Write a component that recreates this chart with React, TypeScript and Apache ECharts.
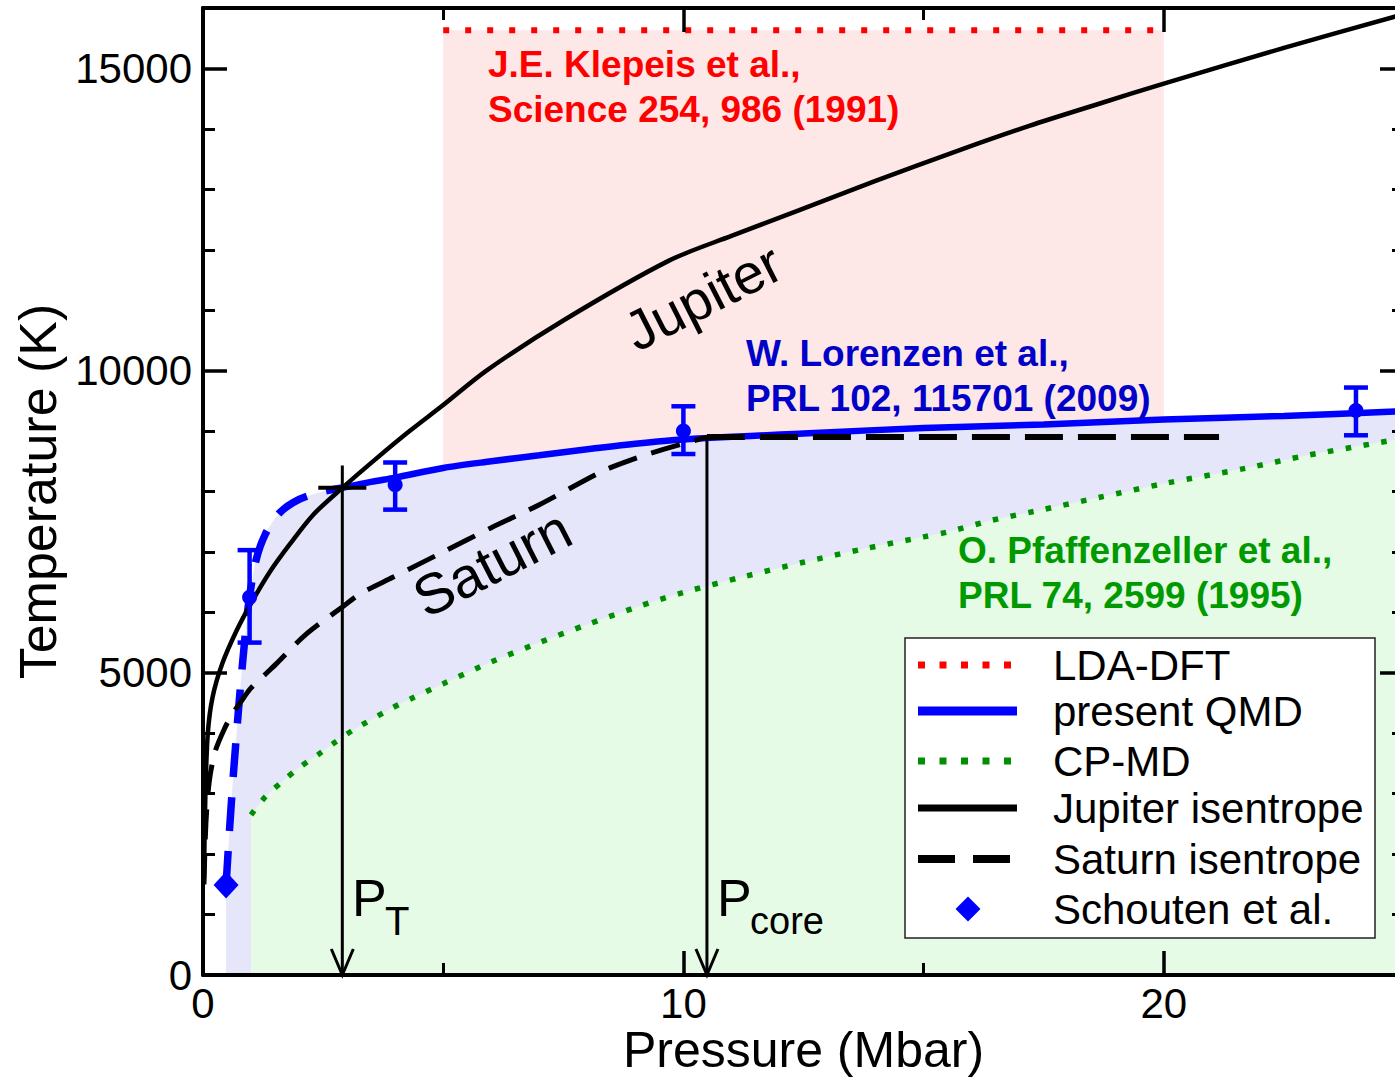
import React, { useEffect, useRef } from "react";
import * as echarts from "echarts";

const FONT = '"Liberation Sans", Arial, Helvetica, sans-serif';

// ---- axes ----
const P_MIN = 0;
const P_MAX = 25;
const P_INTERVAL = 10;
const T_MIN = 0;
const T_MAX = 16000;
const T_INTERVAL = 5000;

// ---- special pressures ----
const P_T = 2.9;
const T_PT_TOP = 8430;
const T_PT_CROSS = 8060;
const P_T_CROSS_HALF = 0.5;
const P_CORE = 10.49;
const T_CORE = 8900;

// ---- data (P in Mbar, T in K) ----
const ldaDft: number[][] = [
  [5, 15630],
  [20, 15630],
];

const qmdDashed: number[][] = [
  [0.48, 1490], [0.56, 2500], [0.64, 3400], [0.74, 4400], [0.84, 5300],
  [0.95, 6150], [1.1, 6850], [1.3, 7300], [1.6, 7650], [2.0, 7870],
  [2.5, 8000], [2.9, 8060],
];

const qmdSolid: number[][] = [
  [2.9, 8060], [3.5, 8160], [4, 8230], [5, 8390], [6, 8500], [7, 8600],
  [8, 8700], [9, 8790], [10, 8860], [12.5, 8960], [15, 9050], [17.5, 9110],
  [20, 9190], [22.5, 9250], [25, 9330],
];

const cpmd: number[][] = [
  [1.0, 2650], [1.3, 2950], [1.65, 3200], [2.0, 3430], [2.4, 3650],
  [2.75, 3850], [3.12, 4050], [3.93, 4415], [4.35, 4580], [5, 4820],
  [6, 5180], [7, 5500], [8, 5800], [9, 6080], [10, 6330], [11.25, 6590],
  [12.5, 6830], [13.75, 7050], [15, 7250], [15.5, 7330], [16.4, 7520],
  [17.3, 7670], [18.67, 7905], [20, 8130], [21.7, 8384], [23, 8600],
  [25, 8880],
];

const jupiter: number[][] = [
  [0.02, 1600], [0.05, 3000], [0.1, 4000], [0.2, 4600], [0.4, 5150],
  [0.7, 5700], [1.0, 6150], [1.4, 6680], [1.8, 7120], [2.3, 7620],
  [2.9, 8060], [3.6, 8540], [4.3, 9000], [5, 9430], [5.9, 10000],
  [7.5, 10830], [9.7, 11820], [11, 12230], [12.4, 12650], [14, 13140],
  [15.75, 13650], [17.2, 14050], [18.67, 14420], [20, 14750], [22.5, 15340],
  [25, 15900],
];

const saturnRise: number[][] = [
  [0.02, 1500], [0.06, 2500], [0.13, 3200], [0.25, 3690], [0.45, 4080],
  [0.62, 4330], [0.77, 4500], [1.0, 4750], [1.33, 5000], [1.54, 5160],
  [2.12, 5620], [2.9, 6090], [3.3, 6320], [3.95, 6580], [5, 7000],
  [6, 7400], [7, 7780], [8.3, 8330], [8.9, 8520], [9.6, 8700],
  [10.49, 8900],
];

const saturnCore: number[][] = [
  [10.49, 8900],
  [21.15, 8900],
];

// [P, T, T_low, T_high]
const qmdErr: number[][] = [
  [0.97, 6250, 5500, 7030],
  [4.0, 8110, 7700, 8480],
  [10.0, 9000, 8620, 9410],
  [24.0, 9340, 8930, 9720],
];

const schouten: number[][] = [[0.48, 1490]];

const legendLabels = [
  "LDA-DFT",
  "present QMD",
  "CP-MD",
  "Jupiter isentrope",
  "Saturn isentrope",
  "Schouten et al.",
];

// ---- colours ----
const RED = "#FF0000";
const BLUE = "#0000FF";
const GREEN = "#008F00";
const PINK_FILL = "#FDE7E7";
const BLUE_FILL = "#E6E6FA";
const GREEN_FILL = "#E6FBE6";

const fmt = (v: number) => String(v);

function buildOption() {
  const axisLineStyle = { color: "#000", width: 4 };
  const tick = { show: true, inside: true, length: 24, lineStyle: { color: "#000", width: 3.5 } };
  const labelStyle = { color: "#000", fontSize: 42, fontFamily: FONT };

  const qmdArea = qmdDashed.concat(qmdSolid.slice(1));

  const legendRowsY = [665, 711, 761, 808, 859, 909];
  const sampleX1 = 918;
  const sampleX2 = 1017;
  const textX = 1053;

  const graphic: any[] = [
    // Annotations
    {
      type: "text", z: 100, x: 488, y: 42,
      style: {
        text: "J.E. Klepeis et al.,\nScience 254, 986 (1991)",
        fill: RED, fontSize: 37, fontWeight: "bold", fontFamily: FONT,
        lineHeight: 45, align: "left", verticalAlign: "top",
      },
    },
    {
      type: "text", z: 100, x: 746, y: 331,
      style: {
        text: "W. Lorenzen et al.,\nPRL 102, 115701 (2009)",
        fill: "#0000C8", fontSize: 37, fontWeight: "bold", fontFamily: FONT,
        lineHeight: 45, align: "left", verticalAlign: "top",
      },
    },
    {
      type: "text", z: 100, x: 958, y: 528,
      style: {
        text: "O. Pfaffenzeller et al.,\nPRL 74, 2599 (1995)",
        fill: "#009A00", fontSize: 37, fontWeight: "bold", fontFamily: FONT,
        lineHeight: 45, align: "left", verticalAlign: "top",
      },
    },
    {
      type: "text", z: 100, x: 703, y: 297, rotation: (27 * Math.PI) / 180,
      style: { text: "Jupiter", fill: "#000", fontSize: 56, fontFamily: FONT, align: "center", verticalAlign: "middle" },
    },
    {
      type: "text", z: 100, x: 492, y: 563, rotation: (27 * Math.PI) / 180,
      style: { text: "Saturn", fill: "#000", fontSize: 57, fontFamily: FONT, align: "center", verticalAlign: "middle" },
    },
    // P_T label
    {
      type: "text", z: 100, x: 352, y: 898,
      style: { text: "P", fill: "#000", fontSize: 52, fontFamily: FONT, align: "left", verticalAlign: "middle" },
    },
    {
      type: "text", z: 100, x: 385, y: 921,
      style: { text: "T", fill: "#000", fontSize: 40, fontFamily: FONT, align: "left", verticalAlign: "middle" },
    },
    // P_core label
    {
      type: "text", z: 100, x: 717, y: 898,
      style: { text: "P", fill: "#000", fontSize: 52, fontFamily: FONT, align: "left", verticalAlign: "middle" },
    },
    {
      type: "text", z: 100, x: 750, y: 921,
      style: { text: "core", fill: "#000", fontSize: 38, fontFamily: FONT, align: "left", verticalAlign: "middle" },
    },
    // Legend box
    {
      type: "rect", z: 100,
      shape: { x: 905, y: 638, width: 470, height: 300 },
      style: { fill: "#fff", stroke: "#222", lineWidth: 1.5 },
    },
    {
      type: "line", z: 101,
      shape: { x1: sampleX1, y1: legendRowsY[0], x2: sampleX2, y2: legendRowsY[0] },
      style: { stroke: RED, lineWidth: 7, lineDash: [7, 14.5], lineCap: "butt" },
    },
    {
      type: "line", z: 101,
      shape: { x1: sampleX1, y1: legendRowsY[1], x2: sampleX2, y2: legendRowsY[1] },
      style: { stroke: BLUE, lineWidth: 9 },
    },
    {
      type: "line", z: 101,
      shape: { x1: sampleX1, y1: legendRowsY[2], x2: sampleX2, y2: legendRowsY[2] },
      style: { stroke: GREEN, lineWidth: 7, lineDash: [7, 14.5], lineCap: "butt" },
    },
    {
      type: "line", z: 101,
      shape: { x1: sampleX1, y1: legendRowsY[3], x2: sampleX2, y2: legendRowsY[3] },
      style: { stroke: "#000", lineWidth: 7 },
    },
    {
      type: "line", z: 101,
      shape: { x1: sampleX1, y1: legendRowsY[4], x2: sampleX2, y2: legendRowsY[4] },
      style: { stroke: "#000", lineWidth: 8, lineDash: [37, 18], lineCap: "butt" },
    },
    {
      type: "polygon", z: 101,
      shape: {
        points: [
          [968, legendRowsY[5] - 12.5],
          [980.5, legendRowsY[5]],
          [968, legendRowsY[5] + 12.5],
          [955.5, legendRowsY[5]],
        ],
      },
      style: { fill: BLUE },
    },
    ...legendLabels.map((t, i) => ({
      type: "text", z: 101, x: textX, y: legendRowsY[i],
      style: { text: t, fill: "#000", fontSize: 42, fontFamily: FONT, align: "left", verticalAlign: "middle" },
    })),
  ];

  const option: any = {
    animation: false,
    backgroundColor: "#fff",
    textStyle: { fontFamily: FONT },
    grid: { left: 203, top: 8, width: 1201, height: 967, outerBoundsMode: "none", containLabel: false },
    xAxis: [
      {
        type: "value", min: P_MIN, max: P_MAX, interval: P_INTERVAL, position: "bottom", z: 10,
        axisLine: { show: true, onZero: false, lineStyle: axisLineStyle },
        axisTick: tick,
        minorTick: { show: true, splitNumber: 2, length: 12, lineStyle: { color: "#000", width: 3 } },
        splitLine: { show: false }, minorSplitLine: { show: false },
        axisLabel: { ...labelStyle, margin: 7, showMaxLabel: false, formatter: fmt },
        name: "Pressure (Mbar)", nameLocation: "middle", nameGap: 50, nameMoveOverlap: false,
        nameTextStyle: { color: "#000", fontSize: 50, fontFamily: FONT },
      },
      {
        type: "value", min: P_MIN, max: P_MAX, interval: P_INTERVAL, position: "top", z: 10,
        axisLine: { show: true, onZero: false, lineStyle: axisLineStyle },
        axisTick: tick,
        minorTick: { show: true, splitNumber: 2, length: 12, lineStyle: { color: "#000", width: 3 } },
        splitLine: { show: false }, minorSplitLine: { show: false },
        axisLabel: { show: false },
      },
    ],
    yAxis: [
      {
        type: "value", min: T_MIN, max: T_MAX, interval: T_INTERVAL, position: "left", z: 10,
        axisLine: { show: true, onZero: false, lineStyle: axisLineStyle },
        axisTick: tick,
        minorTick: { show: true, splitNumber: 5, length: 12, lineStyle: { color: "#000", width: 3 } },
        splitLine: { show: false }, minorSplitLine: { show: false },
        axisLabel: { ...labelStyle, margin: 11, showMaxLabel: false, formatter: fmt },
        name: "Temperature (K)", nameLocation: "middle", nameGap: 139, nameMoveOverlap: false,
        nameTextStyle: { color: "#000", fontSize: 52, fontFamily: FONT },
      },
      {
        type: "value", min: T_MIN, max: T_MAX, interval: T_INTERVAL, position: "right", z: 10,
        axisLine: { show: true, onZero: false, lineStyle: axisLineStyle },
        axisTick: tick,
        minorTick: { show: true, splitNumber: 5, length: 12, lineStyle: { color: "#000", width: 3 } },
        splitLine: { show: false }, minorSplitLine: { show: false },
        axisLabel: { show: false },
      },
    ],
    graphic,
    series: [
      {
        name: "LDA-DFT", type: "line", data: ldaDft, symbol: "none", silent: true,
        lineStyle: { color: RED, width: 6, type: [6, 16], cap: "butt" },
        areaStyle: { color: PINK_FILL, opacity: 1 },
        z: 1,
      },
      {
        name: "qmdArea", type: "line", data: qmdArea, symbol: "none", silent: true, smooth: 0.3,
        lineStyle: { opacity: 0, width: 0 },
        areaStyle: { color: BLUE_FILL, opacity: 1 },
        z: 1,
      },
      {
        name: "CP-MD", type: "line", data: cpmd, symbol: "none", silent: true, smooth: 0.3,
        lineStyle: { color: GREEN, width: 5.5, type: [5.5, 12.5], cap: "butt" },
        areaStyle: { color: GREEN_FILL, opacity: 1 },
        z: 1,
      },
      {
        name: "present QMD (low P)", type: "line", data: qmdDashed, symbol: "none", silent: true, smooth: 0.3,
        lineStyle: { color: BLUE, width: 7.5, type: [34, 20], cap: "butt" },
        z: 3,
      },
      {
        name: "present QMD", type: "line", data: qmdSolid, symbol: "none", silent: true, smooth: 0.3,
        lineStyle: { color: BLUE, width: 6.5 },
        z: 3,
      },
      {
        name: "Jupiter isentrope", type: "line", data: jupiter, symbol: "none", silent: true, smooth: 0.3,
        lineStyle: { color: "#000", width: 4.5 },
        z: 4,
      },
      {
        name: "Saturn isentrope", type: "line", data: saturnRise, symbol: "none", silent: true, smooth: 0.3,
        lineStyle: { color: "#000", width: 5, type: [30, 15], cap: "butt" },
        z: 4,
      },
      {
        name: "Saturn isentrope (core)", type: "line", data: saturnCore, symbol: "none", silent: true,
        lineStyle: { color: "#000", width: 6, type: [38, 15], cap: "butt" },
        z: 4,
      },
      {
        name: "P_T cross", type: "line", symbol: "none", silent: true, clip: false,
        data: [[P_T - P_T_CROSS_HALF, T_PT_CROSS], [P_T + P_T_CROSS_HALF, T_PT_CROSS]],
        lineStyle: { color: "#000", width: 4 },
        z: 5,
      },
      {
        name: "arrows", type: "custom", silent: true, clip: false,
        data: [[P_T, T_PT_TOP], [P_CORE, T_CORE]],
        encode: { x: 0, y: 1 },
        renderItem: (params: any, api: any) => {
          const top = api.coord([api.value(0), api.value(1)]);
          const bot = api.coord([api.value(0), 0]);
          const s = { stroke: "#000", lineWidth: 3, fill: null };
          return {
            type: "group",
            children: [
              { type: "line", shape: { x1: top[0], y1: top[1], x2: bot[0], y2: bot[1] }, style: s },
              {
                type: "polyline",
                shape: { points: [[bot[0] - 11, bot[1] - 26], [bot[0], bot[1]], [bot[0] + 11, bot[1] - 26]] },
                style: s,
              },
            ],
          };
        },
        z: 5,
      },
      {
        name: "errorbars", type: "custom", silent: true, clip: false,
        data: qmdErr,
        encode: { x: 0, y: 1 },
        renderItem: (params: any, api: any) => {
          const x = api.value(0);
          const lo = api.coord([x, api.value(2)]);
          const hi = api.coord([x, api.value(3)]);
          const half = 12;
          const s = { stroke: BLUE, lineWidth: 4.5 };
          return {
            type: "group",
            children: [
              { type: "line", shape: { x1: hi[0], y1: hi[1], x2: lo[0], y2: lo[1] }, style: s },
              { type: "line", shape: { x1: hi[0] - half, y1: hi[1], x2: hi[0] + half, y2: hi[1] }, style: s },
              { type: "line", shape: { x1: lo[0] - half, y1: lo[1], x2: lo[0] + half, y2: lo[1] }, style: s },
            ],
          };
        },
        z: 6,
      },
      {
        name: "QMD points", type: "scatter", silent: true,
        data: qmdErr.map((d) => [d[0], d[1]]),
        symbol: "circle", symbolSize: 15,
        itemStyle: { color: BLUE, opacity: 1 },
        z: 6,
      },
      {
        name: "Schouten et al.", type: "scatter", silent: true,
        data: schouten, symbol: "diamond", symbolSize: [25, 27],
        itemStyle: { color: BLUE, opacity: 1 },
        z: 6,
      },
    ],
  };
  return option;
}

export default function App() {
  const ref = useRef<HTMLDivElement>(null);
  useEffect(() => {
    if (!ref.current) return;
    const chart = echarts.init(ref.current, null, { renderer: "svg" });
    chart.setOption(buildOption());
    return () => chart.dispose();
  }, []);
  return (
    <div
      ref={ref}
      style={{ position: "absolute", left: 0, top: 0, width: 1395, height: 1077 }}
    />
  );
}
